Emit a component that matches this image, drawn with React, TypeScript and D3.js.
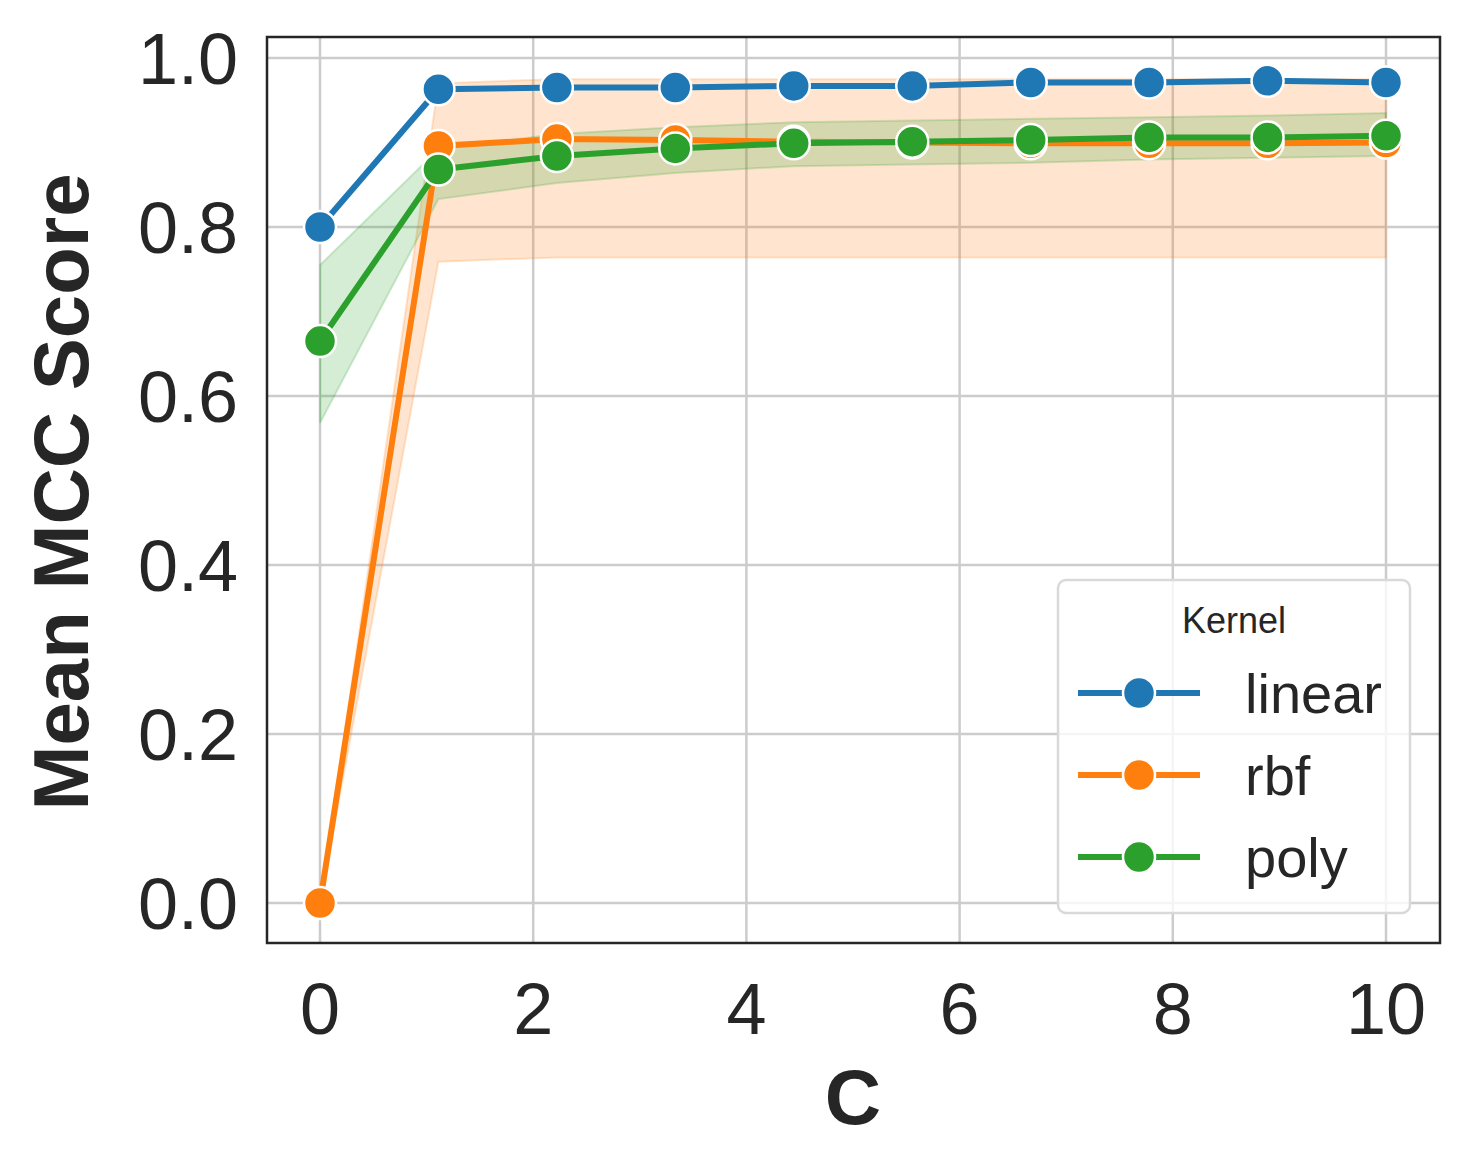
import * as d3 from 'd3';

const xs = [0, 1.111, 2.222, 3.333, 4.444, 5.556, 6.667, 7.778, 8.889, 10];
const linear = [0.8, 0.963, 0.965, 0.965, 0.967, 0.967, 0.971, 0.971, 0.973, 0.971];
const rbf = [0.0, 0.896, 0.904, 0.903, 0.901, 0.9, 0.899, 0.899, 0.899, 0.9];
const rbfLo = [0.0, 0.759, 0.764, 0.764, 0.764, 0.764, 0.764, 0.764, 0.764, 0.764];
const rbfHi = [0.0, 0.97, 0.975, 0.975, 0.975, 0.975, 0.975, 0.975, 0.975, 0.975];
const poly = [0.665, 0.868, 0.884, 0.893, 0.899, 0.901, 0.903, 0.906, 0.906, 0.908];
const polyLo = [0.568, 0.833, 0.852, 0.864, 0.872, 0.874, 0.876, 0.88, 0.882, 0.884];
const polyHi = [0.755, 0.892, 0.91, 0.918, 0.924, 0.926, 0.928, 0.93, 0.932, 0.935];
const xTicks = [0, 2, 4, 6, 8, 10];
const yTicks = [0, 0.2, 0.4, 0.6, 0.8, 1.0];

const series = [
  { name: 'linear', color: '#1f77b4', values: linear },
  { name: 'rbf', color: '#ff7f0e', values: rbf, lo: rbfLo, hi: rbfHi },
  { name: 'poly', color: '#2ca02c', values: poly, lo: polyLo, hi: polyHi },
];

export default function App() {
  const L = 267, R = 1440, T = 37, B = 943;
  const x = d3.scaleLinear().domain([0, 10]).range([320, 1386]);
  const y = d3.scaleLinear().domain([0, 1]).range([903, 58]);
  const line = d3.line<number>().x((_, i) => x(xs[i])).y((d) => y(d));
  const font = 'Arial, "Liberation Sans", sans-serif';
  return (
    <svg width={1470} height={1170} style={{ position: 'absolute', left: 0, top: 0, fontFamily: font }}>
      <rect width={1470} height={1170} fill="#fff" />
      {xTicks.map((t) => (
        <line key={'gx' + t} x1={x(t)} x2={x(t)} y1={T} y2={B} stroke="#cccccc" strokeWidth={2.5} />
      ))}
      {yTicks.map((t) => (
        <line key={'gy' + t} x1={L} x2={R} y1={y(t)} y2={y(t)} stroke="#cccccc" strokeWidth={2.5} />
      ))}
      {series.map((s) =>
        s.lo ? (
          <path
            key={'band' + s.name}
            d={
              d3
                .area<number>()
                .x((_, i) => x(xs[i]))
                .y0((_, i) => y(s.lo![i]))
                .y1((_, i) => y(s.hi![i]))(s.values) ?? ''
            }
            fill={s.color}
            fillOpacity={0.2}
            stroke={s.color}
            strokeOpacity={0.2}
            strokeWidth={2}
          />
        ) : null
      )}
      {series.map((s) => (
        <g key={s.name}>
          <path d={line(s.values) ?? ''} fill="none" stroke={s.color} strokeWidth={6} />
          {s.values.map((v, i) => (
            <circle key={i} cx={x(xs[i])} cy={y(v)} r={16} fill={s.color} stroke="#fff" strokeWidth={2.5} />
          ))}
        </g>
      ))}
      <rect x={L} y={T} width={R - L} height={B - T} fill="none" stroke="#262626" strokeWidth={2.5} />
      {xTicks.map((t) => (
        <text key={'tx' + t} x={x(t)} y={1034} textAnchor="middle" fontSize={72} fill="#262626">
          {t}
        </text>
      ))}
      {yTicks.map((t) => (
        <text key={'ty' + t} x={238} y={y(t) + 26} textAnchor="end" fontSize={72} fill="#262626">
          {t.toFixed(1)}
        </text>
      ))}
      <text x={853} y={1124} textAnchor="middle" fontSize={78} fontWeight="bold" fill="#262626">C</text>
      <text transform="translate(88,492) rotate(-90)" textAnchor="middle" fontSize={78} fontWeight="bold" fill="#262626">
        Mean MCC Score
      </text>
      <rect x={1058} y={580} width={352} height={333} rx={8} fill="#fff" fillOpacity={0.8} stroke="#d9d9d9" strokeWidth={2.5} />
      <text x={1234} y={633} textAnchor="middle" fontSize={36} fill="#262626">Kernel</text>
      {series.map((s, i) => {
        const cy = 693 + i * 82;
        return (
          <g key={'lg' + s.name}>
            <line x1={1078} x2={1200} y1={cy} y2={cy} stroke={s.color} strokeWidth={6} />
            <circle cx={1139} cy={cy} r={16} fill={s.color} stroke="#fff" strokeWidth={2.5} />
            <text x={1245} y={cy + 20} fontSize={56} fill="#262626">{s.name}</text>
          </g>
        );
      })}
    </svg>
  );
}
